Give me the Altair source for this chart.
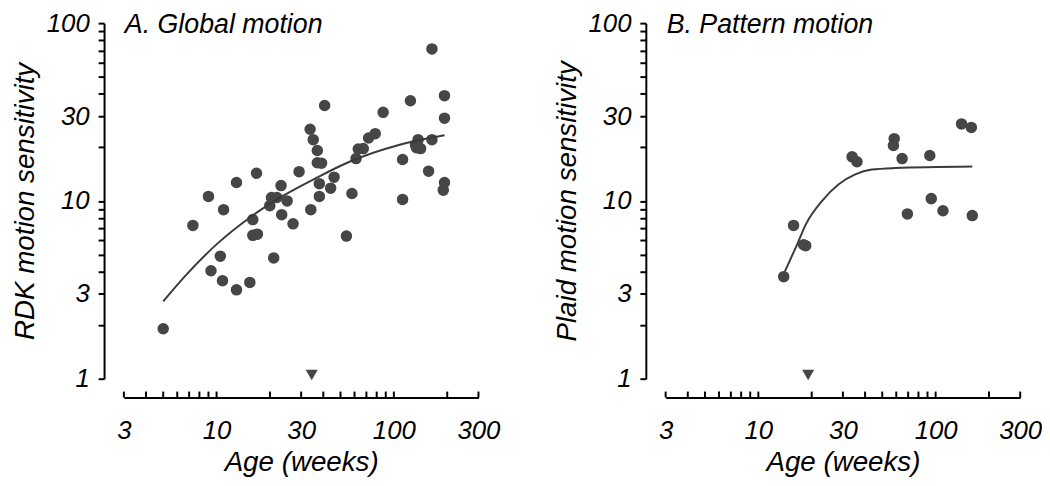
import altair as alt
import pandas as pd

# ---------------- Panel A: Global motion ----------------
a_age = [5.0, 7.35, 9.0, 10.95, 12.95, 16.8, 9.3, 10.5, 10.8, 12.95, 15.4, 16.0, 16.0, 17.0,
         21.0, 19.96, 20.4, 21.9, 23.1, 25.0, 23.3, 27.0, 29.2, 34.0, 33.7, 35.1, 37.0, 37.0,
         39.1, 38.0, 38.0, 40.7, 44.0, 46.0, 54.0, 58.0, 61.2, 63.0, 67.2, 72.0, 78.5, 87.0,
         112, 112, 124, 132.5, 137, 134, 141.5, 164, 157, 164, 193, 193, 193, 190]
a_sens = [1.91, 7.28, 10.6, 8.93, 12.7, 14.3, 4.05, 4.89, 3.56, 3.16, 3.48, 7.85, 6.4, 6.5,
          4.78, 9.4, 10.45, 10.45, 12.2, 10.0, 8.37, 7.43, 14.6, 8.93, 25.3, 22.1, 19.2, 16.4,
          16.3, 12.5, 10.6, 34.4, 11.8, 13.6, 6.34, 11.0, 17.3, 19.6, 19.7, 22.6, 23.9, 31.5,
          10.2, 17.1, 36.6, 20.7, 22.1, 19.9, 19.7, 22.1, 14.7, 71.6, 39.1, 29.2, 12.7, 11.5]
a_fit_age = [5.0, 6.6, 10.1, 15.5, 23.8, 36.7, 56.2, 108, 193]
a_fit_sens = [2.72, 3.75, 5.75, 8.1, 10.7, 13.5, 16.6, 20.7, 23.4]
a_marker_age = [34.4]

# ---------------- Panel B: Pattern motion ----------------
b_age = [13.9, 15.8, 18.0, 18.5, 33.8, 36.0, 58.4, 57.8, 64.7, 69.3, 92.7, 94.5, 110, 140, 159, 161]
b_sens = [3.75, 7.28, 5.67, 5.6, 17.7, 16.6, 22.4, 20.5, 17.3, 8.45, 18.0, 10.3, 8.8, 27.1, 25.9, 8.27]
b_fit_age = [14.1, 16.3, 18.6, 22.9, 28.4, 35.2, 43.6, 59, 161]
b_fit_sens = [4.0, 5.5, 7.43, 10.0, 12.4, 14.1, 15.0, 15.3, 15.6]
b_marker_age = [19.1]

marker_sens = [1.05]

x_ticks = [3, 4, 5, 6, 7, 8, 9, 10, 20, 30, 40, 50, 60, 70, 80, 90, 100, 200, 300]
x_labels = [3, 10, 30, 100, 300]
y_ticks = [1, 2, 3, 4, 5, 6, 7, 8, 9, 10, 20, 30, 40, 50, 60, 70, 80, 90, 100]
y_labels = [1, 3, 10, 30, 100]

FONT = "Liberation Sans"
PT = "#464646"
W, H = 358, 359
XOFF = 19
TICK = 6


def label_expr(vals):
    arr = "[" + ",".join(str(v) for v in vals) + "]"
    return f"indexof({arr}, datum.value) >= 0 ? format(datum.value, 'd') : ''"


def panel(ages, sens, fit_ages, fit_sens, mk_age, title, ytitle):
    pts = pd.DataFrame({"age": ages, "sens": sens})
    fit = pd.DataFrame({"age": fit_ages, "sens": fit_sens})
    mk = pd.DataFrame({"age": mk_age, "sens": marker_sens})
    tk = pd.DataFrame({"age": x_ticks})
    xs = alt.Scale(type="log", domain=[3, 300], nice=False)
    ys = alt.Scale(type="log", domain=[1, 100], nice=False)
    xax = alt.Axis(values=x_ticks, labelExpr=label_expr(x_labels), title="Age (weeks)",
                   orient="bottom", offset=XOFF, ticks=False, labelPadding=20, titlePadding=6,
                   labelOverlap=False, labelFlush=False)
    yax = alt.Axis(values=y_ticks, labelExpr=label_expr(y_labels), title=ytitle,
                   offset=20, tickSize=TICK, labelPadding=9, titlePadding=7,
                   labelOverlap=False, labelFlush=False)
    X = alt.X("age:Q", scale=xs, axis=xax)
    Y = alt.Y("sens:Q", scale=ys, axis=yax)
    p = alt.Chart(pts).mark_circle(size=135, color=PT, opacity=1).encode(x=X, y=Y)
    ln = alt.Chart(fit).mark_line(color="#3a3a3a", strokeWidth=2, interpolate="monotone").encode(x=X, y=Y)
    tri = alt.Chart(mk).mark_point(shape="triangle-down", filled=True, size=150,
                                   color=PT, opacity=1).encode(x=X, y=Y)
    # upward-pointing ticks on the detached x axis line
    ticks = alt.Chart(tk).mark_rule(color="black", strokeWidth=2).encode(
        x=X, y=alt.value(H + XOFF - TICK), y2=alt.value(H + XOFF))
    return alt.layer(p, ln, tri, ticks).properties(
        width=W, height=H,
        title=alt.TitleParams(title, anchor="start", frame="group", font=FONT, fontSize=27,
                              fontStyle="italic", fontWeight="normal", color="black",
                              offset=0, dx=1, dy=29),
    )


chart = alt.hconcat(
    panel(a_age, a_sens, a_fit_age, a_fit_sens, a_marker_age, "A. Global motion", "RDK motion sensitivity"),
    panel(b_age, b_sens, b_fit_age, b_fit_sens, b_marker_age, "B. Pattern motion", "Plaid motion sensitivity"),
    spacing=53,
).properties(padding={"left": 3, "top": 0, "right": 0, "bottom": 0}).configure_view(
    stroke=None
).configure_axis(
    grid=False, domainColor="black", domainWidth=2, tickColor="black", tickWidth=2,
    labelFont=FONT, labelFontSize=26, labelFontStyle="italic", labelColor="black",
    titleFont=FONT, titleFontSize=28, titleFontStyle="italic", titleFontWeight="normal",
    titleColor="black",
)

chart.save("out.html", embed_options={"renderer": "svg", "actions": False})
